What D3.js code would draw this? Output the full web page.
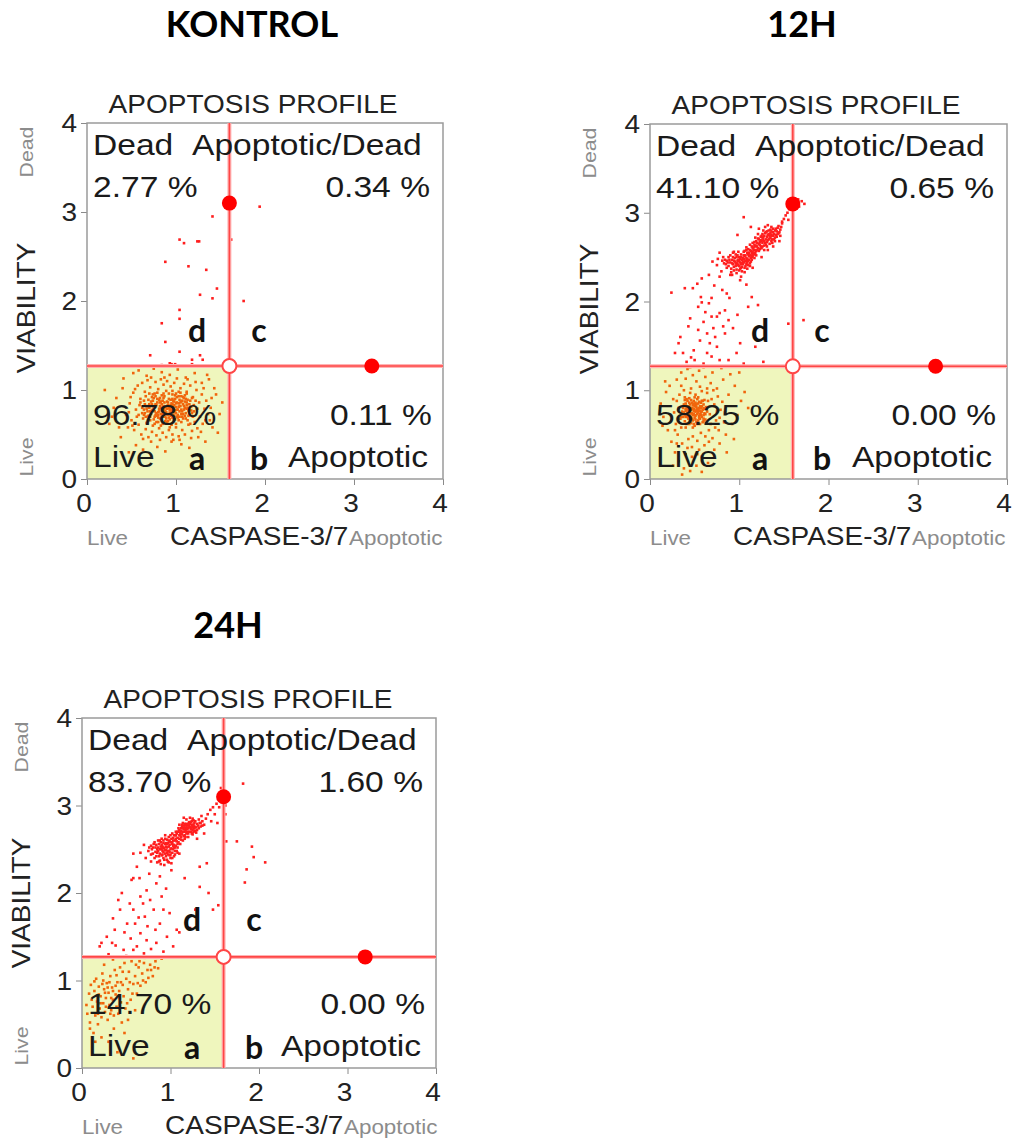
<!DOCTYPE html>
<html>
<head>
<meta charset="utf-8">
<script src="https://cdn.jsdelivr.net/npm/d3@7"></script>
<style>
  body { margin: 0; background: #fff; }
</style>
</head>
<body>
<script>
// Panel names and the percentages printed in each quadrant
var panelTitles = ["KONTROL", "12H", "24H"];
var deadPct     = ["2.77 %", "41.10 %", "83.70 %"];
var apoDeadPct  = ["0.34 %", "0.65 %", "1.60 %"];
var livePct     = ["96.78 %", "58.25 %", "14.70 %"];
var apoPct      = ["0.11 %", "0.00 %", "0.00 %"];

var axisTicks = [0, 1, 2, 3, 4];
var gateX = 1.6, gateY = 1.27;          // quadrant gate
var markerTop = [1.6, 3.1];             // gate handles
var markerRight = [3.2, 1.27];

// Events as [caspase, viability] pairs (flattened)
var kontrolDots = [
  // dead / upper region
  1.94,3.06, 1.41,2.95, 1.04,2.69, 1.09,2.65, 1.24,2.67, 1.26,2.67, 1.62,2.69, 0.88,2.44, 1.14,2.39, 1.34,2.35,
  1.46,2.14, 1.27,2.07, 1.41,2.03, 1.76,2.00, 1.04,1.90, 1.04,1.80, 0.84,1.75, 0.88,1.54, 1.04,1.43, 0.71,1.39,
  1.18,1.34, 1.27,1.39, 1.30,1.34, 0.93,1.30, 0.95,1.29, 0.99,1.29, 1.18,1.29, 0.39,1.27, 0.84,1.28,
  // live halo
  0.20,1.00, 0.25,0.62, 0.33,0.91, 0.38,0.47, 0.41,1.13, 0.44,0.72, 0.47,0.30, 0.52,1.19, 0.55,0.38, 0.58,1.22,
  0.63,0.33, 0.67,1.16, 0.72,0.42, 0.75,1.24, 0.79,0.36, 0.84,1.20, 0.88,0.31, 0.93,1.17, 0.97,0.44, 1.02,1.23,
  1.06,0.39, 1.11,1.14, 1.15,0.35, 1.21,1.19, 1.25,0.47, 1.29,1.08, 1.33,0.42, 1.37,1.12, 1.41,0.58, 1.45,0.95,
  1.49,0.73, 1.52,0.86, 1.38,0.66, 1.43,1.02, 0.30,0.80, 0.36,0.58, 0.40,1.02, 0.28,0.70, 1.47,0.52, 1.35,1.17,
  // live ring
  0.48,0.85, 0.50,0.66, 0.52,0.97, 0.53,0.55, 0.55,0.78, 0.57,1.05, 0.58,0.61, 0.60,0.90, 0.61,0.50, 0.62,1.08,
  0.64,0.72, 0.65,0.98, 0.66,0.56, 0.68,1.11, 0.69,0.47, 0.70,0.84, 0.71,1.03, 0.73,0.53, 0.74,0.95, 0.76,0.62,
  0.77,1.09, 0.78,0.49, 0.80,1.01, 0.81,0.57, 0.83,1.12, 0.85,0.52, 0.86,1.06, 0.89,0.47, 0.90,1.10, 0.92,0.55,
  0.94,1.04, 0.96,0.50, 0.98,1.08, 1.00,0.58, 1.01,1.13, 1.03,0.48, 1.05,1.02, 1.07,0.55, 1.09,1.07, 1.10,0.50,
  1.12,0.98, 1.14,0.61, 1.16,1.05, 1.18,0.54, 1.19,0.92, 1.21,0.64, 1.23,1.00, 1.24,0.57, 1.26,0.86, 1.27,0.70,
  1.29,0.95, 1.30,0.62, 1.32,0.79, 1.34,0.88, 1.36,0.73, 1.31,1.02, 1.28,0.53, 1.22,1.09, 0.47,0.75, 0.49,0.92,
  0.51,0.60, 0.54,1.01, 0.56,0.70, 0.59,0.83, 0.46,0.58, 1.39,0.80, 1.40,0.91, 1.33,0.66, 0.63,0.45, 0.87,1.14,
  1.13,1.12, 0.72,1.14, 1.04,0.44, 0.95,0.42, 0.82,0.44, 1.17,0.46,
  // live core
  0.62,0.80, 0.63,0.68, 0.64,0.88, 0.65,0.74, 0.66,0.93, 0.67,0.63, 0.68,0.82, 0.69,0.71, 0.70,0.96, 0.71,0.66,
  0.72,0.87, 0.73,0.77, 0.74,0.60, 0.75,0.91, 0.76,0.70, 0.77,0.84, 0.78,0.64, 0.79,0.97, 0.80,0.75, 0.81,0.89,
  0.82,0.68, 0.83,0.80, 0.84,0.94, 0.85,0.62, 0.86,0.77, 0.87,0.86, 0.88,0.70, 0.89,0.99, 0.90,0.79, 0.91,0.65,
  0.92,0.90, 0.93,0.74, 0.94,0.83, 0.95,0.61, 0.96,0.95, 0.97,0.72, 0.98,0.87, 0.99,0.67, 1.00,0.81, 1.01,0.92,
  1.02,0.69, 1.03,0.85, 1.04,0.76, 1.05,0.97, 1.06,0.64, 1.07,0.88, 1.08,0.73, 1.09,0.82, 1.10,0.94, 1.11,0.68,
  1.12,0.79, 1.13,0.89, 1.14,0.71, 1.15,0.84, 1.16,0.62, 1.17,0.77, 1.18,0.91, 1.19,0.70, 1.20,0.83,
  0.74,0.78, 0.76,0.82, 0.78,0.74, 0.79,0.86, 0.80,0.69, 0.81,0.79, 0.82,0.91, 0.83,0.73, 0.84,0.84, 0.85,0.78,
  0.86,0.70, 0.87,0.93, 0.88,0.81, 0.89,0.75, 0.90,0.87, 0.91,0.72, 0.92,0.80, 0.93,0.67, 0.94,0.89, 0.95,0.76,
  0.96,0.84, 0.97,0.79, 0.98,0.71, 0.99,0.90, 1.00,0.74, 1.01,0.86, 1.02,0.78, 1.03,0.93, 1.04,0.70, 1.05,0.82,
  1.06,0.87, 1.07,0.76, 1.08,0.68, 1.09,0.91, 1.10,0.80, 1.11,0.74, 1.12,0.86, 0.77,0.93, 0.75,0.67, 0.73,0.84,
  0.71,0.76, 0.69,0.89, 0.67,0.79, 0.65,0.84, 0.88,0.65, 0.92,0.96, 0.96,0.69, 1.00,0.96, 1.04,0.89, 1.08,0.84,
  1.13,0.80, 1.15,0.73, 0.85,0.88, 0.90,0.73, 0.95,0.85, 0.99,0.77, 1.03,0.81, 0.87,0.77, 0.93,0.79, 0.97,0.88,
  0.82,0.82, 0.79,0.71, 1.06,0.73, 1.01,0.70, 0.91,0.83, 0.86,0.82, 0.94,0.71, 0.98,0.83,
  0.70,0.80, 0.72,0.73, 0.74,0.88, 0.76,0.76, 0.78,0.83, 0.80,0.72, 0.82,0.86, 0.84,0.70, 0.86,0.91, 0.88,0.76,
  0.90,0.82, 0.92,0.69, 0.94,0.78, 0.96,0.90, 0.98,0.75, 1.00,0.85, 1.02,0.72, 1.04,0.82, 1.06,0.78, 1.08,0.92,
  1.10,0.71, 1.12,0.83, 1.14,0.77, 1.16,0.88, 1.18,0.74, 0.71,0.70, 0.73,0.92, 0.75,0.80, 0.77,0.72, 0.79,0.90,
  0.81,0.76, 0.83,0.87, 0.85,0.73, 0.87,0.80, 0.89,0.68, 0.91,0.86, 0.93,0.77, 0.95,0.72, 0.97,0.82, 0.99,0.94,
  1.01,0.78, 1.03,0.66, 1.05,0.86, 1.07,0.70, 1.09,0.78, 1.11,0.90, 1.13,0.66, 1.15,0.79, 0.68,0.76, 0.66,0.70,
  0.64,0.78, 0.86,0.96, 0.90,0.64, 0.96,0.99, 1.00,0.62, 1.06,0.93, 0.80,0.64, 0.76,0.96, 1.10,0.87, 1.17,0.81,
  1.20,0.76, 0.62,0.74, 0.60,0.86, 1.22,0.88, 1.24,0.79, 0.58,0.72, 0.83,0.60, 0.93,0.58, 1.03,0.98, 1.12,0.96
];

var h12Dots = [
  // dead cluster
  0.88,2.40, 0.90,2.44, 0.91,2.37, 0.92,2.47, 0.93,2.42, 0.94,2.39, 0.95,2.49, 0.96,2.43, 0.97,2.36, 0.98,2.46,
  0.99,2.41, 1.00,2.50, 1.01,2.44, 1.02,2.38, 1.03,2.47, 1.04,2.42, 1.05,2.52, 1.06,2.45, 1.07,2.40, 1.08,2.49,
  1.09,2.55, 1.10,2.46, 1.11,2.51, 1.12,2.43, 1.13,2.57, 1.14,2.50, 1.15,2.60, 1.16,2.54, 1.17,2.64, 1.18,2.58,
  1.19,2.68, 1.20,2.62, 1.21,2.71, 1.22,2.65, 1.23,2.59, 1.24,2.69, 1.25,2.74, 1.26,2.66, 1.27,2.72, 1.28,2.63,
  1.29,2.77, 1.30,2.70, 1.31,2.67, 1.32,2.75, 1.33,2.80, 1.34,2.71, 1.35,2.77, 1.36,2.68, 1.37,2.74, 1.38,2.82,
  1.39,2.76, 1.40,2.72, 1.42,2.79, 1.44,2.85, 1.46,2.81, 1.48,2.90, 1.50,2.93, 1.52,2.97, 1.54,3.00, 1.56,3.04,
  1.58,3.08, 1.62,3.12, 1.66,3.15, 1.70,3.13, 1.73,3.10, 1.67,3.07,
  0.95,2.45, 0.97,2.50, 0.99,2.47, 1.00,2.40, 1.01,2.48, 1.02,2.53, 1.03,2.43, 1.04,2.49, 1.05,2.44, 1.06,2.51,
  1.07,2.46, 1.08,2.42, 1.09,2.48, 1.10,2.53, 1.11,2.47, 1.12,2.52, 1.13,2.49, 1.14,2.55, 1.15,2.51, 1.16,2.58,
  0.92,2.43, 0.94,2.46, 0.96,2.40, 0.98,2.43, 1.00,2.46, 1.03,2.39, 1.05,2.48, 1.07,2.52, 1.09,2.44, 1.11,2.55,
  0.89,2.47, 0.87,2.44, 0.85,2.42, 0.84,2.47, 0.86,2.38, 1.13,2.45, 1.15,2.56, 1.17,2.53, 1.18,2.62, 1.19,2.57,
  1.20,2.66, 1.22,2.70, 1.23,2.64, 1.24,2.73, 1.25,2.68, 1.26,2.76, 1.27,2.69, 1.28,2.74, 1.29,2.66, 1.30,2.78,
  1.31,2.73, 1.32,2.69, 1.33,2.76, 1.34,2.74, 1.35,2.81, 1.36,2.75, 1.37,2.70, 1.38,2.78, 1.40,2.80, 1.41,2.75,
  1.43,2.83, 1.45,2.78, 1.21,2.60, 1.26,2.62, 1.31,2.79, 1.36,2.84, 1.17,2.67, 1.14,2.62, 1.12,2.58, 1.10,2.59,
  0.90,2.52, 0.93,2.55, 0.96,2.53, 0.99,2.56, 1.02,2.50, 1.05,2.56, 1.08,2.58, 0.91,2.33, 0.94,2.35, 0.97,2.32,
  1.00,2.35, 1.03,2.34, 1.06,2.38, 1.09,2.37, 1.12,2.40, 0.88,2.50, 0.86,2.46, 0.83,2.43, 0.81,2.46, 0.93,2.50,
  0.97,2.41, 1.01,2.37, 1.04,2.45, 1.08,2.46, 1.10,2.41, 1.14,2.47, 1.17,2.49, 1.19,2.52, 0.98,2.52, 1.02,2.42,
  1.18,2.72, 1.21,2.76, 1.24,2.62, 1.27,2.80, 1.30,2.64, 1.33,2.70, 1.36,2.79, 1.39,2.70, 1.42,2.73, 1.44,2.77,
  1.47,2.84, 1.22,2.57, 1.25,2.60, 1.28,2.58, 1.31,2.62, 1.34,2.65, 1.37,2.66, 1.40,2.68, 1.19,2.63, 1.16,2.61,
  1.29,2.84, 1.32,2.86, 1.26,2.72, 1.23,2.67, 1.35,2.72, 1.38,2.74, 1.41,2.82, 1.43,2.76, 1.46,2.74, 1.28,2.68,
  1.12,2.64, 1.15,2.66, 1.08,2.61, 1.06,2.57, 1.14,2.52, 1.18,2.55, 1.20,2.58,
  1.05,2.95, 0.98,2.75, 1.13,2.84, 0.78,2.55, 0.80,2.34, 0.75,2.41, 0.92,2.30, 1.02,2.28, 1.15,2.38, 1.25,2.50,
  1.32,2.58, 1.45,2.68, 1.48,2.88, 1.55,2.92, 0.70,2.45, 0.94,2.56, 1.22,2.82, 0.82,2.50, 1.06,2.33, 1.38,2.62,
  0.76,2.48,
  // scatter between live and dead
  0.24,2.10, 0.39,2.15, 0.48,2.15, 0.58,2.26, 0.57,2.05, 0.69,2.04, 0.66,1.98, 0.78,1.87, 0.84,1.90, 0.86,2.09,
  0.81,2.13, 0.89,2.04, 0.45,1.81, 0.54,1.68, 0.43,1.72, 0.34,1.60, 0.32,1.53, 0.28,1.42, 0.37,1.42, 0.49,1.45,
  0.50,1.34, 0.64,1.64, 0.67,1.53, 0.75,1.49, 0.73,1.60, 0.82,1.72, 0.88,1.79, 0.84,1.64, 0.64,1.42, 0.69,1.38,
  0.78,1.34, 0.97,1.42, 1.01,1.53, 1.05,1.30, 1.27,1.32, 1.18,1.49, 1.10,1.94, 1.21,1.96, 1.55,1.75, 1.72,1.79,
  1.08,2.19, 1.01,2.24, 0.90,2.30, 0.78,2.28, 0.58,1.99, 0.75,1.83, 0.54,1.94, 0.60,1.77, 0.69,1.83, 0.62,1.88,
  0.71,1.70, 0.56,1.56, 0.93,1.70, 0.98,1.85, 0.46,1.37, 0.60,1.30, 0.88,1.34, 0.41,1.32, 0.72,2.18, 0.66,2.30,
  0.53,2.20, 1.14,2.05,
  // live halo
  0.12,0.85, 0.15,0.70, 0.18,0.98, 0.20,0.55, 0.22,1.05, 0.24,0.42, 0.26,0.90, 0.28,0.30, 0.30,1.12, 0.32,0.20,
  0.35,1.20, 0.38,0.12, 0.42,1.24, 0.45,0.09, 0.48,1.17, 0.52,0.15, 0.55,1.22, 0.58,0.25, 0.62,1.15, 0.65,0.18,
  0.68,1.08, 0.72,0.33, 0.75,1.02, 0.78,0.40, 0.82,1.12, 0.85,0.50, 0.88,0.95, 0.92,0.62, 0.95,1.05, 0.98,0.72,
  1.02,0.88, 1.06,0.98, 1.10,0.80, 0.80,1.25, 0.60,1.26, 0.45,1.26, 0.70,1.20, 0.90,1.18, 0.14,0.60, 0.17,1.10,
  0.36,0.05, 0.58,0.08, 0.26,0.15, 0.86,0.30, 0.94,0.45, 1.00,1.20, 0.52,1.10, 0.40,1.13, 0.73,0.58, 0.64,1.02,
  // live ring
  0.27,0.75, 0.29,0.62, 0.30,0.88, 0.31,0.50, 0.33,0.95, 0.34,0.68, 0.36,0.40, 0.37,0.82, 0.38,1.00, 0.40,0.58,
  0.41,0.90, 0.43,0.45, 0.44,0.72, 0.46,1.02, 0.47,0.36, 0.49,0.85, 0.50,0.60, 0.51,0.95, 0.53,0.43, 0.54,0.77,
  0.56,1.04, 0.57,0.52, 0.59,0.88, 0.60,0.65, 0.61,0.38, 0.63,0.80, 0.64,0.97, 0.66,0.55, 0.67,0.73, 0.69,0.90,
  0.70,0.46, 0.72,0.84, 0.74,0.66, 0.76,0.93, 0.77,0.55, 0.79,0.78, 0.81,0.87, 0.83,0.64, 0.84,0.75, 0.28,0.55,
  0.32,0.80, 0.35,0.58, 0.39,0.92, 0.42,0.35, 0.48,0.48, 0.55,0.33, 0.62,0.48, 0.68,0.62, 0.71,1.00, 0.75,0.76,
  0.58,0.99, 0.45,0.97, 0.65,0.88, 0.53,0.28, 0.40,0.28, 0.47,0.25, 0.30,0.40, 0.66,0.42, 0.78,0.69, 0.35,1.05,
  // live core
  0.36,0.76, 0.37,0.70, 0.38,0.84, 0.39,0.65, 0.40,0.79, 0.41,0.73, 0.42,0.88, 0.43,0.68, 0.44,0.81, 0.45,0.75,
  0.46,0.63, 0.47,0.86, 0.48,0.72, 0.49,0.79, 0.50,0.69, 0.51,0.83, 0.52,0.76, 0.53,0.90, 0.54,0.66, 0.55,0.80,
  0.56,0.73, 0.57,0.86, 0.58,0.70, 0.59,0.78, 0.60,0.84, 0.61,0.74, 0.62,0.67, 0.63,0.81, 0.64,0.76, 0.39,0.89,
  0.41,0.62, 0.43,0.77, 0.44,0.91, 0.46,0.70, 0.47,0.80, 0.48,0.66, 0.49,0.88, 0.50,0.76, 0.51,0.71, 0.52,0.84,
  0.53,0.62, 0.54,0.79, 0.55,0.87, 0.56,0.68, 0.57,0.75, 0.58,0.82, 0.59,0.64, 0.60,0.72, 0.61,0.89, 0.45,0.84,
  0.44,0.70, 0.42,0.74, 0.40,0.85, 0.38,0.75, 0.47,0.74, 0.49,0.73, 0.50,0.82, 0.52,0.78, 0.53,0.73, 0.48,0.83,
  0.46,0.78, 0.51,0.67, 0.55,0.71, 0.57,0.80, 0.43,0.82, 0.45,0.66, 0.54,0.85, 0.56,0.77, 0.42,0.79, 0.49,0.62,
  0.58,0.88, 0.62,0.79, 0.37,0.80, 0.40,0.70, 0.60,0.68,
  0.40,0.77, 0.42,0.70, 0.44,0.86, 0.46,0.74, 0.48,0.79, 0.50,0.72, 0.52,0.81, 0.54,0.75, 0.56,0.82, 0.58,0.76,
  0.43,0.73, 0.45,0.80, 0.47,0.68, 0.49,0.77, 0.51,0.86, 0.53,0.79, 0.55,0.69, 0.57,0.72, 0.41,0.82, 0.39,0.72,
  0.46,0.89, 0.50,0.92, 0.54,0.92, 0.60,0.80, 0.62,0.73, 0.48,0.58, 0.52,0.64, 0.44,0.62, 0.56,0.62, 0.35,0.70
];

var h24Dots = [
  // dead cluster
  0.75,2.48, 0.78,2.44, 0.80,2.52, 0.82,2.40, 0.84,2.55, 0.85,2.46, 0.87,2.36, 0.88,2.50, 0.89,2.58, 0.90,2.43,
  0.91,2.53, 0.92,2.47, 0.93,2.38, 0.94,2.56, 0.95,2.49, 0.96,2.61, 0.97,2.44, 0.98,2.53, 0.99,2.47, 1.00,2.58,
  1.01,2.51, 1.02,2.40, 1.03,2.63, 1.04,2.55, 1.05,2.48, 1.06,2.66, 1.07,2.59, 1.08,2.52, 1.09,2.70, 1.10,2.62,
  1.11,2.56, 1.12,2.74, 1.13,2.67, 1.14,2.60, 1.15,2.77, 1.16,2.70, 1.17,2.64, 1.18,2.79, 1.19,2.73, 1.20,2.68,
  1.21,2.81, 1.22,2.75, 1.23,2.70, 1.24,2.78, 1.25,2.72, 1.26,2.83, 1.27,2.76, 1.28,2.71, 1.30,2.79, 1.32,2.74,
  1.34,2.80, 1.36,2.77,
  0.86,2.52, 0.88,2.45, 0.90,2.55, 0.91,2.48, 0.92,2.60, 0.93,2.51, 0.94,2.45, 0.95,2.57, 0.96,2.52, 0.97,2.48,
  0.98,2.60, 0.99,2.55, 1.00,2.50, 1.01,2.62, 1.02,2.56, 1.03,2.50, 1.04,2.66, 1.05,2.60, 1.06,2.54, 1.07,2.68,
  1.08,2.63, 1.09,2.58, 1.10,2.72, 1.11,2.66, 1.12,2.61, 1.13,2.76, 1.14,2.70, 1.15,2.65, 1.16,2.79, 1.17,2.72,
  1.18,2.68, 1.19,2.77, 1.20,2.74, 1.21,2.70, 1.22,2.79, 1.23,2.73, 1.25,2.77, 1.27,2.80, 1.29,2.75, 0.83,2.47,
  0.81,2.56, 0.79,2.50, 0.87,2.42, 0.95,2.42, 1.00,2.44, 1.05,2.52, 0.97,2.57, 1.08,2.56, 1.12,2.68, 1.18,2.74,
  0.92,2.52, 0.96,2.46, 1.02,2.58, 1.06,2.62, 1.10,2.66, 1.14,2.74, 1.24,2.82, 1.16,2.66, 1.04,2.52, 0.89,2.53,
  0.85,2.50, 0.94,2.62, 1.00,2.66, 1.26,2.74,
  0.80,2.45, 0.82,2.58, 0.84,2.42, 0.86,2.60, 0.88,2.37, 0.90,2.62, 0.92,2.40, 0.94,2.66, 0.96,2.38, 0.98,2.64,
  1.00,2.40, 1.02,2.68, 1.04,2.42, 1.06,2.70, 1.08,2.46, 0.83,2.52, 0.87,2.56, 0.91,2.44, 0.95,2.53, 0.99,2.43,
  1.03,2.54, 1.07,2.48, 0.85,2.35, 0.89,2.33, 0.93,2.32, 0.97,2.36, 1.01,2.34, 1.05,2.44, 0.78,2.54, 0.76,2.52,
  0.90,2.50, 0.94,2.49, 0.98,2.48, 1.02,2.46, 0.86,2.48, 0.99,2.59, 1.03,2.60, 0.92,2.57, 0.88,2.60, 0.96,2.56,
  1.10,2.78, 1.12,2.64, 1.14,2.80, 1.16,2.62, 1.18,2.84, 1.20,2.64, 1.22,2.86, 1.24,2.68, 1.26,2.70, 1.28,2.82,
  1.30,2.72, 1.32,2.84, 1.34,2.76, 1.36,2.82, 1.38,2.78, 1.12,2.71, 1.15,2.73, 1.17,2.77, 1.19,2.70, 1.21,2.77,
  1.23,2.81, 1.25,2.67, 1.27,2.74, 1.29,2.69, 1.31,2.77, 1.08,2.70, 1.06,2.66, 1.09,2.74, 1.13,2.78, 1.24,2.75,
  1.20,2.79, 1.16,2.74, 1.11,2.69, 1.33,2.80, 1.26,2.78,
  0.66,2.46, 0.72,2.40, 0.70,2.55, 1.40,2.85, 1.38,2.68, 1.35,2.88, 1.45,2.95, 1.48,2.98, 1.52,3.02, 1.56,3.06,
  1.58,3.10, 1.55,2.98, 1.50,2.90, 1.42,2.90, 1.46,2.82, 1.53,2.80, 1.60,3.30, 1.57,3.20, 1.82,3.25, 1.62,3.00,
  1.60,2.78, 1.62,2.90, 1.63,2.59, 1.75,2.59, 1.92,2.53, 1.94,2.41, 2.07,2.35, 1.86,2.27, 1.84,2.12, 1.30,2.62,
  0.98,2.35, 1.10,2.45, 0.78,2.36, 1.33,2.30, 1.25,2.85, 1.15,2.86,
  // scatter between live and dead
  0.58,2.45, 0.65,2.17, 0.73,2.03, 0.56,2.15, 0.45,2.00, 0.41,1.92, 0.35,1.71, 0.37,1.58, 0.22,1.43, 0.34,1.43,
  0.47,1.35, 0.58,1.81, 0.60,1.65, 0.66,1.54, 0.71,1.73, 0.77,1.92, 0.84,2.11, 0.90,1.96, 0.81,1.81, 0.88,1.65,
  0.96,1.50, 0.84,1.43, 0.73,1.46, 0.62,1.39, 0.99,1.77, 1.07,1.58, 1.18,1.65, 1.33,2.07, 1.41,2.34, 1.43,2.00,
  1.48,1.81, 1.54,1.86, 1.28,1.81, 1.16,2.17, 1.01,2.26, 0.58,2.17, 0.88,2.19, 0.92,1.81, 1.03,1.39, 0.92,1.33,
  0.20,1.39, 0.28,1.50, 0.51,1.65, 0.54,1.88, 0.43,1.81, 0.66,1.96, 0.30,1.30, 0.50,1.28, 0.70,1.31, 0.78,1.36,
  0.55,1.48, 0.64,1.72, 0.74,1.62, 0.69,1.88, 0.48,1.55, 0.83,1.58, 0.38,1.40, 0.58,1.35, 1.10,1.55, 1.22,1.60,
  0.95,2.05, 0.76,2.22, 0.62,2.30,
  // live
  0.06,0.62, 0.08,0.85, 0.09,0.52, 0.10,0.95, 0.12,0.70, 0.13,0.40, 0.14,0.88, 0.15,0.60, 0.16,1.02, 0.17,0.76,
  0.18,0.50, 0.19,0.93, 0.20,0.68, 0.21,0.82, 0.22,0.58, 0.23,1.08, 0.24,0.74, 0.25,0.90, 0.26,0.64, 0.27,0.80,
  0.28,0.97, 0.29,0.55, 0.30,0.86, 0.31,0.72, 0.32,1.05, 0.33,0.66, 0.34,0.92, 0.35,0.78, 0.36,0.60, 0.37,1.12,
  0.38,0.84, 0.39,0.70, 0.40,0.98, 0.41,0.62, 0.42,0.88, 0.43,1.15, 0.44,0.75, 0.45,0.52, 0.46,0.95, 0.47,0.82,
  0.48,1.20, 0.49,0.68, 0.50,1.02, 0.52,0.90, 0.53,1.10, 0.55,0.78, 0.56,1.22, 0.58,0.96, 0.60,1.05, 0.62,0.85,
  0.64,1.15, 0.66,0.94, 0.68,1.08, 0.70,1.20, 0.72,0.98, 0.74,1.12, 0.77,1.18, 0.80,1.05, 0.83,1.22, 0.86,1.14,
  0.90,1.25, 0.45,1.26, 0.35,1.24, 0.25,1.18, 0.58,0.11, 0.40,0.18, 0.30,0.30, 0.22,0.35, 0.48,0.40, 0.36,0.45,
  0.52,0.55, 0.15,0.30, 0.60,0.66, 0.11,0.78, 0.19,0.84, 0.26,0.86, 0.33,0.80, 0.29,0.92, 0.23,0.96, 0.38,0.94,
  0.31,0.98, 0.27,0.70, 0.21,0.74, 0.35,0.88, 0.42,0.80, 0.18,0.62, 0.14,0.99, 0.32,0.62, 0.24,1.00, 0.44,0.98,
  0.39,1.06, 0.46,1.10, 0.54,0.98, 0.51,0.74, 0.57,0.85, 0.63,0.97, 0.69,1.00, 0.75,1.03, 0.78,1.12, 0.82,1.15,
  0.65,1.22, 0.61,1.18, 0.71,1.26, 0.85,1.26, 0.09,0.45, 0.05,0.72
];

var panelDots = [kontrolDots, h12Dots, h24Dots];

// where each plot box sits on the page
var layout = [
  {L: 87,  T: 123, R: 443,  B: 479,  tx: 252, ty: 37},
  {L: 650, T: 124, R: 1007, B: 479,  tx: 802, ty: 37},
  {L: 82,  T: 718, R: 436,  B: 1068, tx: 228, ty: 638}
];

var SX = 1.12;   // the printout text is a bit wider than Arial
var SANS = "'Liberation Sans', Arial, sans-serif";

function toPairs(flat) {
  var out = [];
  for (var i = 0; i < flat.length; i += 2) out.push([flat[i], flat[i + 1]]);
  return out;
}

function label(g, x, y, s, size, anchor, fill, rot) {
  return g.append("text")
    .attr("transform", "translate(" + x + "," + y + ")" + (rot ? " rotate(-90)" : "") + " scale(" + SX + ",1)")
    .attr("text-anchor", anchor || "start")
    .attr("font-family", SANS)
    .attr("font-size", size)
    .attr("fill", fill || "#1a1a1a")
    .text(s);
}

var svg = d3.select("body").append("svg")
  .attr("width", 1014)
  .attr("height", 1142);

svg.append("rect").attr("width", 1014).attr("height", 1142).attr("fill", "#fff");

// log-decade minor ticks, like the instrument axis
var minorTicks = [];
axisTicks.slice(0, -1).forEach(function(d) {
  d3.range(2, 10).forEach(function(k) { minorTicks.push(d + Math.log10(k)); });
});

layout.forEach(function(lay, i) {
  var g = svg.append("g");
  var x = d3.scaleLinear().domain([0, 4]).range([lay.L, lay.R]);
  var y = d3.scaleLinear().domain([0, 4]).range([lay.B, lay.T]);

  // panel heading
  g.append("text")
    .attr("x", lay.tx).attr("y", lay.ty)
    .attr("text-anchor", "middle")
    .attr("font-family", "Lato, 'Open Sans', sans-serif")
    .attr("font-weight", "bold")
    .attr("font-size", 36)
    .attr("fill", "#000")
    .text(panelTitles[i]);

  label(g, lay.L + 166, lay.T - 10, "APOPTOSIS PROFILE", 25, "middle", "#222");

  // live quadrant fill
  g.append("rect")
    .attr("x", x(0)).attr("y", y(gateY))
    .attr("width", x(gateX) - x(0)).attr("height", y(0) - y(gateY))
    .attr("fill", "#eff6bd");

  // axes ticks
  var xa = g.append("g").attr("transform", "translate(0," + lay.B + ")");
  xa.call(d3.axisBottom(x).tickValues(minorTicks).tickSize(3).tickFormat(""));
  xa.call(d3.axisBottom(x).tickValues(axisTicks).tickSize(6).tickFormat(""));
  var ya = g.append("g").attr("transform", "translate(" + lay.L + ",0)");
  ya.call(d3.axisLeft(y).tickValues(minorTicks).tickSize(3).tickFormat(""));
  ya.call(d3.axisLeft(y).tickValues(axisTicks).tickSize(6).tickFormat(""));
  g.selectAll(".domain").remove();
  g.selectAll(".tick line").attr("stroke", "#8a8a8a");

  // frame
  g.append("rect")
    .attr("x", lay.L).attr("y", lay.T)
    .attr("width", lay.R - lay.L).attr("height", lay.B - lay.T)
    .attr("fill", "none").attr("stroke", "#9a9a9a").attr("stroke-width", 1.5);

  // tick labels
  axisTicks.forEach(function(t) {
    label(g, x(t) - 3, lay.B + 33, String(t), 25, "middle", "#222");
    label(g, lay.L - 10, y(t) + 9, String(t), 25, "end", "#222");
  });

  // events
  var pts = toPairs(panelDots[i]);
  g.append("g").selectAll("rect")
    .data(pts)
    .join("rect")
    .attr("x", function(d) { return x(d[0]) - 1.3; })
    .attr("y", function(d) { return y(d[1]) - 1.3; })
    .attr("width", 2.6).attr("height", 2.6)
    .attr("fill", function(d) {
      return (d[0] < gateX && d[1] < gateY) ? "#f0650c" : "#ff1e1e";
    });

  // gate lines with a soft halo
  [["#ffb3b3", 4], ["#ff4646", 1.6]].forEach(function(st) {
    g.append("line")
      .attr("x1", x(gateX)).attr("x2", x(gateX))
      .attr("y1", y(0)).attr("y2", y(4))
      .attr("stroke", st[0]).attr("stroke-width", st[1]);
    g.append("line")
      .attr("x1", x(0)).attr("x2", x(4))
      .attr("y1", y(gateY)).attr("y2", y(gateY))
      .attr("stroke", st[0]).attr("stroke-width", st[1]);
  });

  [markerTop, markerRight].forEach(function(m) {
    g.append("circle")
      .attr("cx", x(m[0])).attr("cy", y(m[1])).attr("r", 7.5)
      .attr("fill", "#ff0000");
  });
  g.append("circle")
    .attr("cx", x(gateX)).attr("cy", y(gateY)).attr("r", 7)
    .attr("fill", "#fff").attr("stroke", "#ff4646").attr("stroke-width", 2);

  // quadrant labels
  label(g, lay.L + 6, lay.T + 32, "Dead", 30);
  label(g, lay.L + 105, lay.T + 32, "Apoptotic/Dead", 30);
  label(g, lay.L + 6, lay.T + 74, deadPct[i], 30);
  label(g, lay.R - 13, lay.T + 74, apoDeadPct[i], 30, "end");
  label(g, lay.L + 6, lay.B - 54, livePct[i], 30);
  label(g, lay.R - 11, lay.B - 54, apoPct[i], 30, "end");
  label(g, lay.L + 6, lay.B - 12, "Live", 30);
  label(g, lay.R - 15, lay.B - 12, "Apoptotic", 30, "end");

  // quadrant letters
  [["a", 110, 9], ["b", 172, 9], ["d", 110, 137], ["c", 172, 137]].forEach(function(q) {
    g.append("text")
      .attr("x", lay.L + q[1]).attr("y", lay.B - q[2])
      .attr("text-anchor", "middle")
      .attr("font-family", "Lato, 'Open Sans', sans-serif")
      .attr("font-weight", "bold")
      .attr("font-size", 32)
      .attr("fill", "#111")
      .text(q[0]);
  });

  // axis titles
  label(g, lay.L - 52, lay.T + 185, "VIABILITY", 25, "middle", "#222", true);
  label(g, lay.L - 54, lay.T + 29, "Dead", 19, "middle", "#8c8c8c", true);
  label(g, lay.L - 54, lay.B - 22, "Live", 19, "middle", "#8c8c8c", true);
  label(g, lay.L, lay.B + 66, "Live", 20, "start", "#8c8c8c");
  label(g, lay.L + 83, lay.B + 66, "CASPASE-3/7", 25, "start", "#222");
  label(g, lay.L + 262, lay.B + 66, "Apoptotic", 20, "start", "#8c8c8c");
});
</script>
</body>
</html>
